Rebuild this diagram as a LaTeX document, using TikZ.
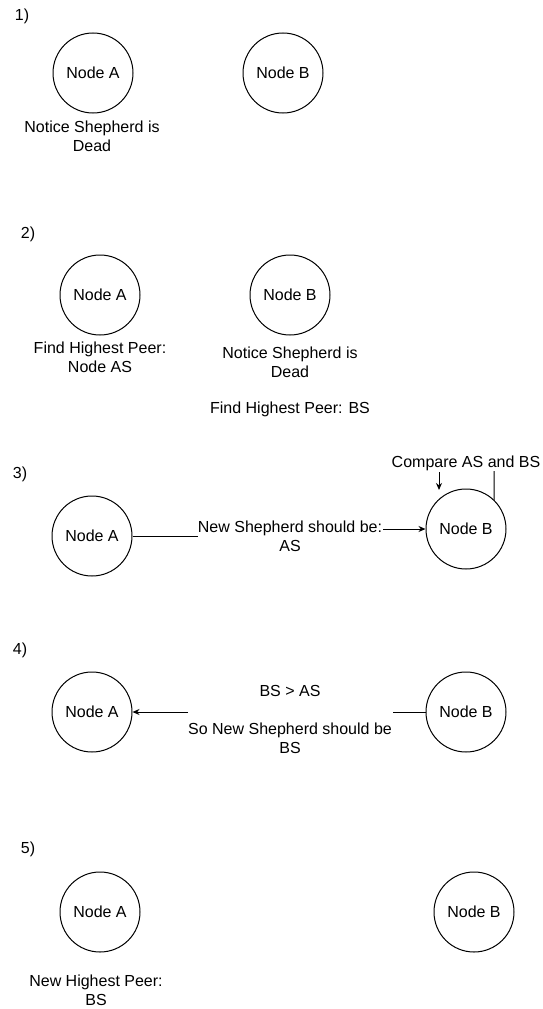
\documentclass[tikz,border=0pt]{standalone}
\usepackage{fontspec}
\setmainfont{Liberation Sans}
\usetikzlibrary{arrows.meta}

\begin{document}
\begin{tikzpicture}[x=1pt,y=-1pt,line width=1pt,
    peer/.style={draw,circle,minimum size=80pt,inner sep=0pt,font=\fontsize{16}{19}\selectfont},
    txt/.style={align=center,inner sep=0pt,font=\fontsize{16}{19}\selectfont},
    arr/.style={-{Stealth[length=7pt,width=6pt]}}]
    \useasboundingbox (0,0) rectangle (542,1009);
    % 1)
    \node[txt] (s1) at (22,16) {1)};
    \node[peer] (a1) at (93,73) {Node A};
    \node[peer] (b1) at (283,73) {Node B};
    \node[txt] (a1note) at (92,136) {Notice Shepherd is\\Dead};
    % 2)
    \node[txt] (s2) at (28,234) {2)};
    \node[peer] (a2) at (100,295) {Node A};
    \node[peer] (b2) at (290,295) {Node B};
    \node[txt] (a2note) at (100,357) {Find Highest Peer:\\Node AS};
    \node[txt] (b2note) at (290,362) {Notice Shepherd is\\Dead};
    \node[txt] (b2peer) at (290,409) {Find Highest Peer: BS};
    % 3)
    \node[txt] (s3) at (20,474) {3)};
    \node[peer] (a3) at (92,536) {Node A};
    \node[peer] (b3) at (466,529) {Node B};
    \node[txt] (cmp) at (466,463) {Compare AS and BS};
    \node[txt] (msg3) at (290,536) {New Shepherd should be:\\AS};
    \coordinate (m3l) at (198,536);
    \coordinate (m3r) at (383,529);
    \coordinate (c3top) at (439,472);
    \coordinate (c3bot) at (439,490);
    \coordinate (cmpend) at (494,471);
    \draw (a3) -- (m3l);
    \draw[arr] (m3r) -- (b3);
    \draw[arr] (c3top) -- (c3bot);
    \draw (cmpend) -- (b3.46);
    % 4)
    \node[txt] (s4) at (20,650) {4)};
    \node[peer] (a4) at (92,712) {Node A};
    \node[peer] (b4) at (466,712) {Node B};
    \node[txt] (cmp4) at (290,691) {BS > AS};
    \node[txt] (msg4) at (290,738) {So New Shepherd should be\\BS};
    \coordinate (m4r) at (393,712);
    \coordinate (m4l) at (188,712);
    \draw (b4) -- (m4r);
    \draw[arr] (m4l) -- (a4);
    % 5)
    \node[txt] (s5) at (28,849) {5)};
    \node[peer] (a5) at (100,912) {Node A};
    \node[peer] (b5) at (474,912) {Node B};
    \node[txt] (a5note) at (96,990) {New Highest Peer:\\BS};
\end{tikzpicture}
\end{document}
